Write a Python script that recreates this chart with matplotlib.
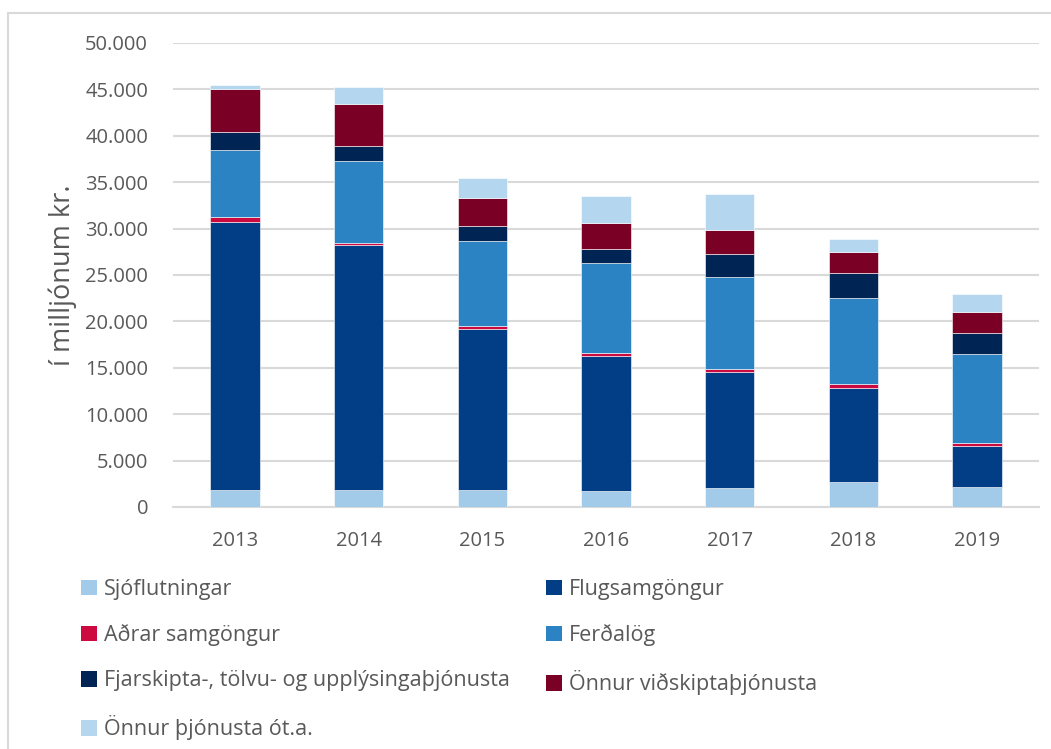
import matplotlib
matplotlib.use("Agg")
import matplotlib.pyplot as plt
import numpy as np
from matplotlib.patches import Rectangle, Patch

years = ["2013", "2014", "2015", "2016", "2017", "2018", "2019"]
series_names = [
    "Sjóflutningar",
    "Flugsamgöngur",
    "Aðrar samgöngur",
    "Ferðalög",
    "Fjarskipta-, tölvu- og upplýsingaþjónusta",
    "Önnur viðskiptaþjónusta",
    "Önnur þjónusta ót.a.",
]
sjoflutningar = [1800, 1800, 1800, 1750, 2000, 2650, 2200]
flugsamgongur = [28900, 26400, 17400, 14500, 12600, 10150, 4400]
adrar_samgongur = [500, 250, 300, 300, 300, 500, 250]
ferdalog = [7300, 8800, 9200, 9700, 9850, 9200, 9650]
fjarskipti = [1900, 1600, 1600, 1500, 2550, 2700, 2250]
onnur_vidskipta = [4600, 4600, 3000, 2800, 2500, 2300, 2300]
onnur_thjonusta = [500, 1800, 2200, 3000, 3900, 1400, 1850]

colors = ["#a2cbea", "#023e86", "#cc0a3f", "#2b83c4", "#002554", "#7a0025", "#b4d6ee"]
values = [sjoflutningar, flugsamgongur, adrar_samgongur, ferdalog,
          fjarskipti, onnur_vidskipta, onnur_thjonusta]

plt.rcParams['font.family'] = ['Open Sans', 'DejaVu Sans']
txt_color = "#595959"

fig = plt.figure(figsize=(10.51, 7.49), dpi=100)
ax = fig.add_axes([173/1051, 1-507/749, (1039-173)/1051, (507-43)/749])

x = np.arange(len(years))
bottom = np.zeros(len(years))
handles = []
for name, vals, c in zip(series_names, values, colors):
    vals = np.array(vals, dtype=float)
    ax.bar(x, vals, 0.4, bottom=bottom, color=c, edgecolor='white', linewidth=0.4, zorder=3)
    bottom += vals
    handles.append(Patch(facecolor=c, edgecolor='none', label=name))

ax.set_xlim(-0.5, len(years) - 0.5)
ax.set_ylim(0, 50000)
ax.set_yticks(np.arange(0, 50001, 5000))
ax.set_yticklabels(["0"] + [f"{v//1000}.000" for v in range(5000, 50001, 5000)])
ax.set_xticks(x)
ax.set_xticklabels(years)
ax.yaxis.grid(True, color="#d9d9d9", linewidth=1.5, zorder=0)
ax.set_axisbelow(True)
for s in ["top", "right", "left"]:
    ax.spines[s].set_visible(False)
ax.spines["bottom"].set_color("#d9d9d9")
ax.spines["bottom"].set_linewidth(1.5)
ax.tick_params(axis='both', length=0, labelsize=14.5, labelcolor=txt_color)
ax.tick_params(axis='y', pad=18)
ax.tick_params(axis='x', pad=17)
ax.set_ylabel("í milljónum kr.", fontsize=19.5, color=txt_color)
ax.yaxis.set_label_coords(-0.111, 0.5)

legend_kw = dict(loc='upper left', frameon=False, fontsize=15.5, labelcolor=txt_color,
                 handlelength=0.75, handleheight=0.75, handletextpad=0.3,
                 labelspacing=1.12, borderaxespad=0, borderpad=0)
left_idx = [0, 2, 4, 6]
right_idx = [1, 3, 5]
fig.legend([handles[i] for i in left_idx], [series_names[i] for i in left_idx],
           bbox_to_anchor=(81/1051, 1-579/749), **legend_kw)
fig.legend([handles[i] for i in right_idx], [series_names[i] for i in right_idx],
           bbox_to_anchor=(546/1051, 1-579/749), **legend_kw)

fig.patches.append(Rectangle((8/1051, -0.1), 1.2, 1-13/749 + 0.1, transform=fig.transFigure,
                             fill=False, edgecolor="#d9d9d9", linewidth=1.5))

fig.savefig("out.png", dpi=100)
